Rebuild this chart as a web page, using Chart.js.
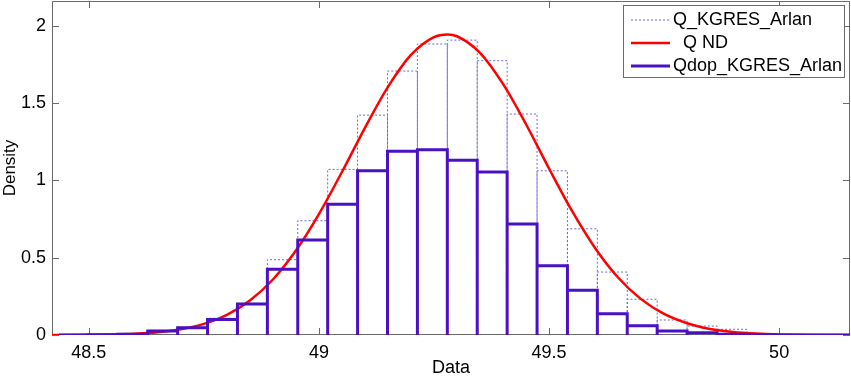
<!DOCTYPE html>
<html>
<head>
<meta charset="utf-8">
<script src="https://cdn.jsdelivr.net/npm/chart.js@4/dist/chart.umd.min.js"></script>
<style>
    body { margin: 0; background: #fff; }
</style>
</head>
<body>
<canvas id="chart" width="851" height="376"></canvas>
<script>
// histogram bin edges (Data)
const binEdges = [48.435, 48.498, 48.563, 48.628, 48.693, 48.758, 48.823, 48.888, 48.954,
    49.019, 49.084, 49.149, 49.214, 49.279, 49.344, 49.409, 49.474, 49.540, 49.605,
    49.670, 49.735, 49.800, 49.865, 49.930, 49.995, 50.060, 50.125, 50.190];

// Q_KGRES_Arlan (dotted)
const qKgres = [0, 0.003, 0.01, 0.03, 0.05, 0.108, 0.205, 0.487, 0.739, 1.071, 1.422, 1.707,
    1.882, 1.907, 1.774, 1.429, 1.062, 0.687, 0.407, 0.231, 0.097, 0.058, 0.037, 0.01, 0.003, 0, 0];

// Qdop_KGRES_Arlan (solid purple)
const qdopKgres = [0, 0.002, 0.005, 0.026, 0.047, 0.10, 0.20, 0.425, 0.614, 0.845, 1.062, 1.188,
    1.198, 1.13, 1.054, 0.718, 0.448, 0.289, 0.138, 0.060, 0.026, 0.015, 0.005, 0.002, 0, 0, 0];

// Q ND fitted curve
const ndX = [48.42, 48.50, 48.55, 48.60, 48.65, 48.70, 48.75, 48.80, 48.85, 48.90, 48.95,
    49.00, 49.05, 49.10, 49.15, 49.20, 49.25, 49.28, 49.30, 49.35, 49.40, 49.45, 49.50,
    49.55, 49.60, 49.65, 49.70, 49.75, 49.80, 49.85, 49.90, 49.95, 50.00, 50.05, 50.10, 50.16];
const ndY = [0.0004, 0.0015, 0.0037, 0.0084, 0.018, 0.037, 0.072, 0.130, 0.223, 0.359, 0.546,
    0.782, 1.054, 1.340, 1.605, 1.812, 1.927, 1.944, 1.932, 1.825, 1.624, 1.363, 1.077,
    0.802, 0.563, 0.372, 0.232, 0.136, 0.076, 0.039, 0.019, 0.009, 0.004, 0.0016, 0.0006, 0.0002];

const xTicks = [48.5, 49, 49.5, 50];
const yTicks = [0, 0.5, 1, 1.5, 2];

const FONT = 'Liberation Sans, Arial, sans-serif';
const AXIS_COLOR = '#6b6b6b';

// bar outlines: up, across, down for every bin
function outline(heights) {
    let pts = [];
    heights.forEach((h, i) => {
        pts.push({x: binEdges[i], y: 0});
        pts.push({x: binEdges[i], y: h});
        pts.push({x: binEdges[i + 1], y: h});
        pts.push({x: binEdges[i + 1], y: 0});
    });
    return pts;
}

// no extra room for the end tick labels
function noPadding(s) {
    s.paddingTop = 0;
    s.paddingBottom = 0;
    s.paddingLeft = 0;
    s.paddingRight = 0;
}

// MATLAB-like box with inward ticks
const boxPlugin = {
    id: 'box',
    beforeDatasetsDraw(chart) {
        const {ctx, chartArea: a, scales} = chart;
        const len = 7;
        ctx.save();
        ctx.strokeStyle = AXIS_COLOR;
        ctx.lineWidth = 1;
        ctx.beginPath();
        ctx.rect(a.left + 0.5, a.top + 0.5, a.right - a.left - 1, a.bottom - a.top - 1);
        xTicks.forEach(v => {
            const x = Math.round(scales.x.getPixelForValue(v)) + 0.5;
            ctx.moveTo(x, a.bottom); ctx.lineTo(x, a.bottom - len);
            ctx.moveTo(x, a.top); ctx.lineTo(x, a.top + len);
        });
        yTicks.forEach(v => {
            const y = Math.round(scales.y.getPixelForValue(v)) + 0.5;
            ctx.moveTo(a.left, y); ctx.lineTo(a.left + len, y);
            ctx.moveTo(a.right, y); ctx.lineTo(a.right - len, y);
        });
        ctx.stroke();
        ctx.restore();
    }
};

const legendPlugin = {
    id: 'boxLegend',
    afterDatasetsDraw(chart) {
        const ctx = chart.ctx;
        const left = 623.5, top = 5.5, w = 221, h = 72;
        ctx.save();
        ctx.fillStyle = '#fff';
        ctx.fillRect(left, top, w, h);
        ctx.strokeStyle = AXIS_COLOR;
        ctx.lineWidth = 1;
        ctx.strokeRect(left, top, w, h);
        ctx.font = '18px ' + FONT;
        ctx.textBaseline = 'middle';
        ctx.fillStyle = '#000';
        chart.data.datasets.forEach((ds, i) => {
            const y = 20 + i * 23;
            ctx.beginPath();
            ctx.strokeStyle = ds.borderColor;
            ctx.lineWidth = ds.borderWidth;
            ctx.setLineDash(ds.borderDash || []);
            ctx.moveTo(631, y);
            ctx.lineTo(670, y);
            ctx.stroke();
            ctx.setLineDash([]);
            ctx.fillText(ds.label, 673, y);
        });
        ctx.restore();
    }
};

const config = {
    type: 'line',
    data: {
        datasets: [
            {
                label: 'Q_KGRES_Arlan',
                data: outline(qKgres),
                borderColor: '#6b6bd0',
                borderWidth: 1,
                borderDash: [2, 2],
                pointRadius: 0,
                order: 3
            },
            {
                label: '  Q ND',
                data: ndX.map((x, i) => ({x: x, y: ndY[i]})),
                borderColor: '#ff0000',
                borderWidth: 2.5,
                pointRadius: 0,
                cubicInterpolationMode: 'monotone',
                order: 2
            },
            {
                label: 'Qdop_KGRES_Arlan',
                data: outline(qdopKgres),
                borderColor: '#4a10c4',
                borderWidth: 3,
                borderJoinStyle: 'miter',
                pointRadius: 0,
                order: 1
            }
        ]
    },
    options: {
        responsive: false,
        animation: false,
        layout: { padding: { top: 1, right: 1, left: 0, bottom: 0 } },
        plugins: {
            legend: { display: false },
            tooltip: { enabled: false }
        },
        scales: {
            x: {
                type: 'linear',
                min: 48.42,
                max: 50.154,
                grid: { display: false, drawTicks: false },
                border: { display: false },
                afterBuildTicks: s => { s.ticks = xTicks.map(v => ({value: v})); },
                afterFit: s => { s.height = 41; noPadding(s); },
                ticks: {
                    color: '#000',
                    padding: 7,
                    maxRotation: 0,
                    font: { family: FONT, size: 18 },
                    callback: v => String(v)
                },
                title: {
                    display: true,
                    text: 'Data',
                    color: '#000',
                    font: { family: FONT, size: 18 },
                    padding: { top: 0, bottom: -3 }
                }
            },
            y: {
                min: 0,
                max: 2.16,
                grid: { display: false, drawTicks: false },
                border: { display: false },
                afterBuildTicks: s => { s.ticks = yTicks.map(v => ({value: v})); },
                afterFit: s => { s.width = 52; noPadding(s); },
                ticks: {
                    color: '#000',
                    padding: 6,
                    font: { family: FONT, size: 18 },
                    callback: v => String(v)
                },
                title: {
                    display: true,
                    text: 'Density',
                    color: '#000',
                    font: { family: FONT, size: 17 },
                    padding: { top: 0, bottom: 0 }
                }
            }
        }
    },
    plugins: [boxPlugin, legendPlugin]
};

new Chart(document.getElementById('chart'), config);
</script>
</body>
</html>
